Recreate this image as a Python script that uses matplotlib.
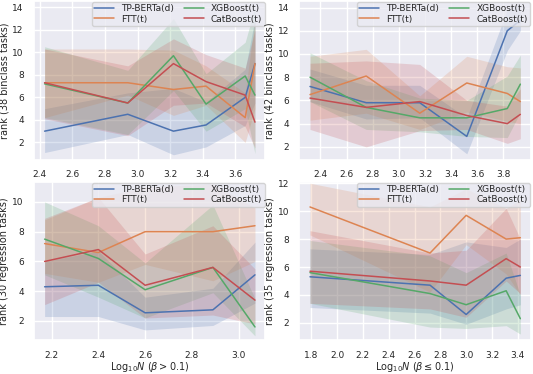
import numpy as np
import matplotlib
matplotlib.use('Agg')
import matplotlib.pyplot as plt
import seaborn as sns

models = ['TP-BERTa(d)', 'FTT(t)', 'XGBoost(t)', 'CatBoost(t)']
colors = ['#4C72B0', '#DD8452', '#55A868', '#C44E52']

# top left: binclass, beta > 0.1
x_tl = [2.43, 2.94, 3.22, 3.42, 3.66, 3.72]
mean_tl = [[3.0, 4.5, 3.0, 3.55, 6.0, 9.0],
           [7.3, 7.3, 6.7, 7.0, 4.2, 9.0],
           [7.2, 5.5, 9.7, 5.4, 7.9, 6.2],
           [7.3, 5.5, 9.0, 7.4, 6.2, 3.8]]
low_tl = [[1.1, 2.7, 0.9, 1.6, 3.5, 5.5],
          [4.2, 6.2, 4.4, 5.3, 2.0, 5.0],
          [4.2, 2.7, 6.6, 3.0, 5.0, 1.0],
          [4.1, 2.6, 5.3, 5.5, 3.4, 1.5]]
high_tl = [[5.0, 6.4, 6.8, 5.6, 8.5, 13.0],
           [10.3, 10.3, 10.2, 8.8, 6.4, 13.0],
           [10.5, 8.4, 13.0, 8.1, 10.9, 14.0],
           [10.3, 8.8, 11.2, 9.8, 8.6, 12.0]]

# top right: binclass, beta <= 0.1
x_tr = [2.32, 2.75, 3.16, 3.52, 3.83, 3.93]
mean_tr = [[7.2, 5.8, 5.8, 2.9, 12.0, 12.9],
           [6.5, 8.1, 4.9, 7.5, 6.6, 5.9],
           [8.0, 5.4, 4.5, 4.5, 5.3, 7.4],
           [6.2, 5.4, 5.9, 4.7, 4.0, 4.8]]
low_tr = [[5.9, 4.4, 4.5, 1.4, 10.3, 12.0],
          [4.3, 4.9, 3.5, 5.0, 4.2, 4.0],
          [5.9, 3.5, 3.3, 2.9, 2.8, 5.0],
          [3.5, 2.0, 3.4, 3.5, 2.3, 2.7]]
high_tr = [[8.7, 7.3, 7.3, 4.5, 13.8, 14.3],
           [9.8, 10.4, 6.4, 9.8, 8.9, 8.8],
           [10.1, 7.7, 6.2, 6.0, 8.1, 9.9],
           [9.2, 9.4, 9.1, 6.0, 5.5, 7.0]]

# bottom left: regression, beta > 0.1
x_bl = [2.17, 2.40, 2.60, 2.89, 3.07]
mean_bl = [[4.3, 4.4, 2.55, 2.75, 5.1],
           [7.2, 6.6, 8.0, 8.0, 8.4],
           [7.5, 6.2, 4.1, 5.6, 1.6],
           [6.0, 6.8, 4.4, 5.6, 3.4]]
low_bl = [[2.3, 2.3, 1.4, 1.7, 3.2],
          [5.2, 4.6, 5.8, 4.7, 6.0],
          [5.1, 3.6, 2.2, 3.9, 1.0],
          [3.1, 4.6, 2.2, 2.4, 1.8]]
high_bl = [[6.0, 6.7, 3.6, 4.2, 7.3],
           [8.8, 10.3, 11.0, 11.2, 9.6],
           [10.0, 8.4, 5.9, 9.8, 3.5],
           [8.9, 10.3, 6.5, 8.4, 5.5]]

# bottom right: regression, beta <= 0.1
x_br = [1.79, 2.72, 3.0, 3.31, 3.42]
mean_br = [[5.3, 4.7, 2.6, 5.2, 5.4],
           [10.3, 7.0, 9.7, 8.0, 8.1],
           [5.6, 4.1, 3.3, 4.3, 2.3],
           [5.7, 5.0, 4.7, 6.6, 6.0]]
low_br = [[3.1, 2.7, 1.9, 3.0, 3.3],
          [8.3, 4.2, 7.6, 5.5, 4.0],
          [3.4, 1.7, 1.6, 1.8, 1.2],
          [3.4, 3.0, 2.4, 5.0, 4.1]]
high_br = [[7.3, 6.9, 7.8, 7.4, 8.0],
           [12.0, 10.3, 11.6, 10.2, 10.8],
           [7.9, 6.8, 5.6, 7.0, 4.0],
           [8.6, 7.0, 7.2, 10.2, 8.0]]

xticks_tl = [2.4, 2.6, 2.8, 3.0, 3.2, 3.4, 3.6]
xticks_tr = [2.4, 2.6, 2.8, 3.0, 3.2, 3.4, 3.6, 3.8]
xticks_bl = [2.2, 2.4, 2.6, 2.8, 3.0]
xticks_br = [1.8, 2.0, 2.2, 2.4, 2.6, 2.8, 3.0, 3.2, 3.4]

panels = [
    (x_tl, mean_tl, low_tl, high_tl, xticks_tl, [2, 4, 6, 8, 10, 12, 14],
     'rank (38 binclass tasks)', None, (0.47, 14.55)),
    (x_tr, mean_tr, low_tr, high_tr, xticks_tr, [2, 4, 6, 8, 10, 12, 14],
     'rank (42 binclass tasks)', None, (0.9, 14.55)),
    (x_bl, mean_bl, low_bl, high_bl, xticks_bl, [2, 4, 6, 8, 10],
     'rank (30 regression tasks)', r'Log$_{10}N$ ($\beta > 0.1$)', (0.7, 11.35)),
    (x_br, mean_br, low_br, high_br, xticks_br, [2, 4, 6, 8, 10, 12],
     'rank (35 regression tasks)', r'Log$_{10}N$ ($\beta \leq 0.1$)', (0.75, 12.1)),
]

sns.set_theme(style='darkgrid')
plt.rcParams['font.family'] = ['DejaVu Sans']

fig, axes = plt.subplots(2, 2, figsize=(5.33, 3.74), dpi=100)
for ax, (x, mean, low, high, xt, yt, ylab, xlab, ylim) in zip(axes.flat, panels):
    for i, m in enumerate(models):
        ax.plot(x, mean[i], color=colors[i], lw=1.1, label=m)
        ax.fill_between(x, low[i], high[i], color=colors[i], alpha=0.2, lw=0)
    ax.set_xticks(xt)
    ax.set_yticks(yt)
    ax.set_ylim(*ylim)
    ax.set_ylabel(ylab, fontsize=7, labelpad=2)
    if xlab:
        ax.set_xlabel(xlab, fontsize=7, labelpad=0.5)
    ax.tick_params(labelsize=6.5, pad=1.5)
    ax.legend(loc='upper right', ncol=2, fontsize=6.5, borderpad=0.25,
              labelspacing=0.15, columnspacing=1.1, handlelength=2.2,
              borderaxespad=0.1)

plt.subplots_adjust(left=0.064, right=0.996, top=0.997, bottom=0.09,
                    wspace=0.147, hspace=0.14)
plt.savefig('out.png', dpi=100)
